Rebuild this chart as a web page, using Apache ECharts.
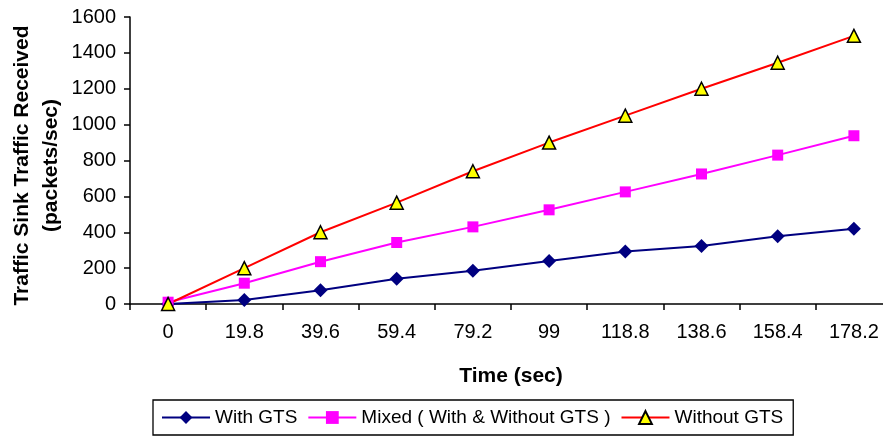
<!DOCTYPE html>
<html>
<head>
<meta charset="utf-8">
<script src="https://cdn.jsdelivr.net/npm/echarts@6/dist/echarts.min.js"></script>
<style>
html,body{margin:0;padding:0;background:#fff;}
#chart{width:883px;height:441px;}
</style>
</head>
<body>
<div id="chart"></div>
<script>
var categories = ['0','19.8','39.6','59.4','79.2','99','118.8','138.6','158.4','178.2'];
var withGTS = [0, 22, 77, 141, 185, 240, 293, 323, 378, 420];
var mixed = [10, 116, 236, 343, 430, 525, 625, 725, 830, 938];
var withoutGTS = [0, 200, 400, 565, 740, 900, 1050, 1200, 1345, 1495];
var yTicks = {min: 0, max: 1600, interval: 200};

var FONT = 'Liberation Sans, Arial, sans-serif';
var chart = echarts.init(document.getElementById('chart'));
chart.setOption({
  animation: false,
  backgroundColor: '#fff',
  textStyle: {fontFamily: FONT},
  grid: {left: 130, right: -9, top: 17, bottom: 137, containLabel: false, outerBoundsMode: 'none'},
  legend: {
    left: 153, top: 400,
    padding: [8, 10, 8, 8],
    itemGap: 10,
    itemWidth: 48, itemHeight: 16,
    borderColor: '#000', borderWidth: 1.3,
    textStyle: {fontFamily: FONT, fontSize: 19, color: '#000'},
    data: ['With GTS', 'Mixed ( With & Without GTS )', 'Without GTS']
  },
  xAxis: {
    type: 'category',
    data: categories,
    boundaryGap: true,
    name: 'Time (sec)',
    nameLocation: 'middle',
    nameGap: 62,
    nameMoveOverlap: false,
    nameTextStyle: {fontFamily: FONT, fontSize: 21, fontWeight: 'bold', color: '#000'},
    axisLine: {lineStyle: {color: '#000', width: 1.5}},
    axisTick: {show: true, length: 6, lineStyle: {color: '#000', width: 1.5}},
    axisLabel: {fontFamily: FONT, fontSize: 20, color: '#000', margin: 18}
  },
  yAxis: {
    type: 'value',
    min: yTicks.min, max: yTicks.max, interval: yTicks.interval,
    name: 'Traffic Sink Traffic Received\n(packets/sec)',
    nameLocation: 'middle',
    nameGap: 64,
    nameMoveOverlap: false,
    nameRotate: 90,
    nameTextStyle: {fontFamily: FONT, fontSize: 21, fontWeight: 'bold', color: '#000', lineHeight: 29, padding: [0, 10, 0, 0]},
    splitLine: {show: false},
    axisLine: {show: true, lineStyle: {color: '#000', width: 1.5}},
    axisTick: {show: true, length: 6, lineStyle: {color: '#000', width: 1.5}},
    axisLabel: {fontFamily: FONT, fontSize: 20, color: '#000', margin: 14, formatter: function (v) { return String(v); }}
  },
  series: [
    {
      name: 'With GTS', type: 'line', data: withGTS,
      symbol: 'diamond', symbolSize: 14, showAllSymbol: true,
      lineStyle: {color: '#000080', width: 2},
      itemStyle: {color: '#000080'}
    },
    {
      name: 'Mixed ( With & Without GTS )', type: 'line', data: mixed,
      symbol: 'rect', symbolSize: 11, showAllSymbol: true,
      lineStyle: {color: '#ff00ff', width: 2},
      itemStyle: {color: '#ff00ff'}
    },
    {
      name: 'Without GTS', type: 'line', data: withoutGTS,
      symbol: 'triangle', symbolSize: 13, showAllSymbol: true,
      lineStyle: {color: '#ff0000', width: 2},
      itemStyle: {color: '#ffff00', borderColor: '#000', borderWidth: 1.5}
    }
  ]
});
</script>
</body>
</html>
